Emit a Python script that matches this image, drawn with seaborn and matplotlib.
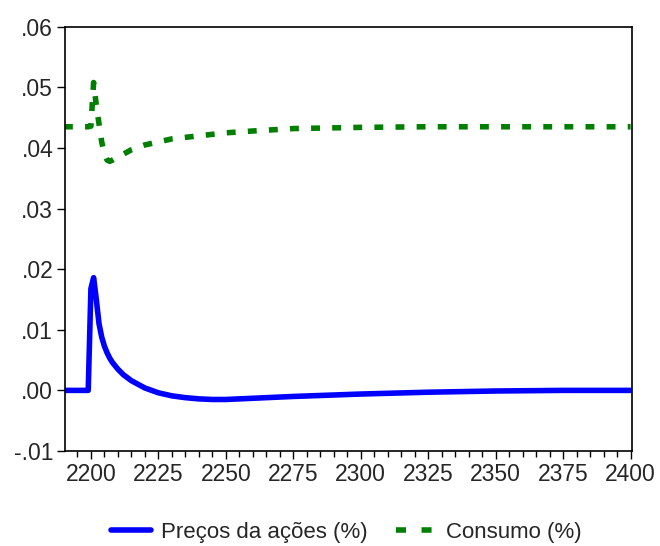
import numpy as np
import pandas as pd
import matplotlib
matplotlib.use("Agg")
import matplotlib.pyplot as plt
import matplotlib.ticker as mticker
import seaborn as sns

# Data
# ==================================================
years_precos = [2190, 2199, 2200, 2201, 2202, 2203, 2204, 2205, 2206, 2207, 2208,
                2210, 2212, 2215, 2220, 2225, 2230, 2235, 2240, 2245, 2250,
                2260, 2275, 2300, 2325, 2350, 2375, 2400]
precos = [0.0, 0.0, 0.0168, 0.0186, 0.0150, 0.0110, 0.0088, 0.0073, 0.0062, 0.0053, 0.0046,
          0.0035, 0.0026, 0.0016, 0.0004, -0.0004, -0.0009, -0.0012, -0.0014, -0.0015, -0.0015,
          -0.0013, -0.0010, -0.0006, -0.0003, -0.0001, 0.0, 0.0]

years_consumo = [2190, 2199, 2200, 2201, 2202, 2203, 2204, 2205, 2206, 2207, 2208,
                 2210, 2215, 2220, 2225, 2230, 2240, 2250, 2260, 2275, 2300, 2325, 2350, 2400]
consumo = [0.0435, 0.0435, 0.0436, 0.0508, 0.0470, 0.0440, 0.0410, 0.0390, 0.0380, 0.0378, 0.0380,
           0.0385, 0.0397, 0.0405, 0.0410, 0.0415, 0.0420, 0.0425, 0.0428, 0.0432, 0.0434, 0.0435,
           0.0435, 0.0435]

label_precos = "Preços da ações (%)"
label_consumo = "Consumo (%)"

df = pd.concat([
    pd.DataFrame({"year": years_precos, "value": precos, "serie": label_precos}),
    pd.DataFrame({"year": years_consumo, "value": consumo, "serie": label_consumo}),
])

# Plot
# ==================================================
sns.set_style("white")
plt.rcParams["font.family"] = ["Liberation Sans", "DejaVu Sans"]

fig = plt.figure(figsize=(6.6, 5.46), dpi=100)
ax = fig.add_axes([0.0985, 0.174, 0.859, 0.777])

lw = 4.0
green_dash = (1.6, 2.2)
sns.lineplot(data=df, x="year", y="value", hue="serie", style="serie",
             palette={label_precos: "#0000ff", label_consumo: "#007f00"},
             dashes={label_precos: "", label_consumo: green_dash},
             linewidth=lw, ax=ax, legend=False)

ax.set_xlim(2190.4, 2400.5)
ax.set_ylim(-0.01, 0.06)
ax.xaxis.set_major_locator(mticker.MultipleLocator(25))
ax.xaxis.set_minor_locator(mticker.MultipleLocator(5))
ax.yaxis.set_major_locator(mticker.MultipleLocator(0.01))
ax.yaxis.set_major_formatter(mticker.FuncFormatter(
    lambda v, p: ("-" if v < -1e-9 else "") + ("%.2f" % abs(v))[1:]))
ax.tick_params(axis="both", which="major", direction="out", length=5.5, width=1,
               labelsize=16.5, color="black", bottom=True, left=True, pad=3)
ax.tick_params(axis="x", which="minor", direction="out", length=4, width=1,
               color="black", bottom=True)
ax.set_xlabel("")
ax.set_ylabel("")
for s in ax.spines.values():
    s.set_color("black")
    s.set_linewidth(1.2)

handles = [
    plt.Line2D([], [], color="#0000ff", lw=lw),
    plt.Line2D([], [], color="#007f00", lw=lw, dashes=(1.8, 2.8)),
]
fig.legend(handles, [label_precos, label_consumo], loc="center",
           bbox_to_anchor=(0.525, 0.025), ncol=2, frameon=False, fontsize=16,
           handlelength=1.8, columnspacing=1.25, handletextpad=0.45)

plt.savefig("out.png", dpi=100)
